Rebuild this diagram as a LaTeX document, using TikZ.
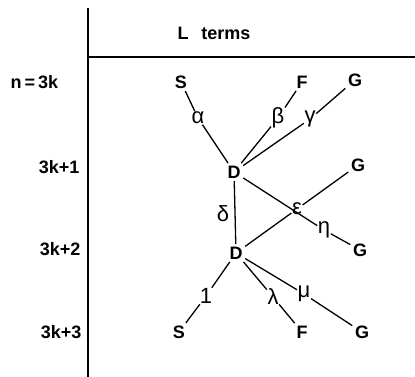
\documentclass[tikz,border=0pt]{standalone}
\usepackage{fontspec}
\setmainfont{Liberation Sans}
\begin{document}
\begin{tikzpicture}[x=1pt,y=-1pt,
  lbl/.style={font=\fontsize{18}{20}\selectfont\bfseries, inner sep=2.5pt},
  gr/.style={font=\fontsize{22}{24}\selectfont, inner sep=0.5pt},
  edge/.style={line width=1.3pt},
  rule/.style={line width=1.3pt}]
\useasboundingbox (0,0) rectangle (415,377);
% frame lines
\coordinate (vt) at (88,8); \coordinate (vb) at (88,377);
\coordinate (hl) at (88,57); \coordinate (hr) at (415,57);
\draw[rule] (vt) -- (vb);
\draw[rule] (hl) -- (hr);
% header and row labels
\node[lbl] (title) at (214,33) {L\hspace{0.7em}terms};
\node[lbl,anchor=west] (r0) at (8,82) {n\,=\,3k};
\node[lbl,anchor=east] (r1) at (82,167) {3k+1};
\node[lbl,anchor=east] (r2) at (83,249) {3k+2};
\node[lbl,anchor=east] (r3) at (84,332) {3k+3};
% nodes
\node[lbl] (S0) at (181,82) {S};
\node[lbl] (F0) at (302,82) {F};
\node[lbl] (G0) at (355,80) {G};
\node[lbl] (D1) at (234,172) {D};
\node[lbl] (G1) at (358,165) {G};
\node[lbl] (D2) at (236,253) {D};
\node[lbl] (G2) at (360,250) {G};
\node[lbl] (S3) at (179,332) {S};
\node[lbl] (F3) at (302,332) {F};
\node[lbl] (G3) at (362,332) {G};
% greek labels
\node[gr] (al) at (198,118) {α};
\node[gr] (be) at (278,118) {β};
\node[gr] (ga) at (310,119) {γ};
\node[gr] (de) at (223,214) {δ};
\node[gr] (ep) at (297,209) {ε};
\node[gr] (et) at (324,230) {η};
\node[gr] (io) at (206,296) {1};
\node[gr] (la) at (273,297) {λ};
\node[gr] (mu) at (304,294) {μ};
% connectors
\draw[edge] (S0) -- (al) -- (D1);
\draw[edge] (F0) -- (be) -- (D1);
\draw[edge] (G0) -- (ga) -- (D1);
\draw[edge] (D1) -- (D2);
\draw[edge] (D1) -- (et) -- (G2);
\draw[edge] (G1) -- (ep) -- (D2);
\draw[edge] (D2) -- (io) -- (S3);
\draw[edge] (D2) -- (la) -- (F3);
\draw[edge] (D2) -- (mu) -- (G3);
\end{tikzpicture}
\end{document}
